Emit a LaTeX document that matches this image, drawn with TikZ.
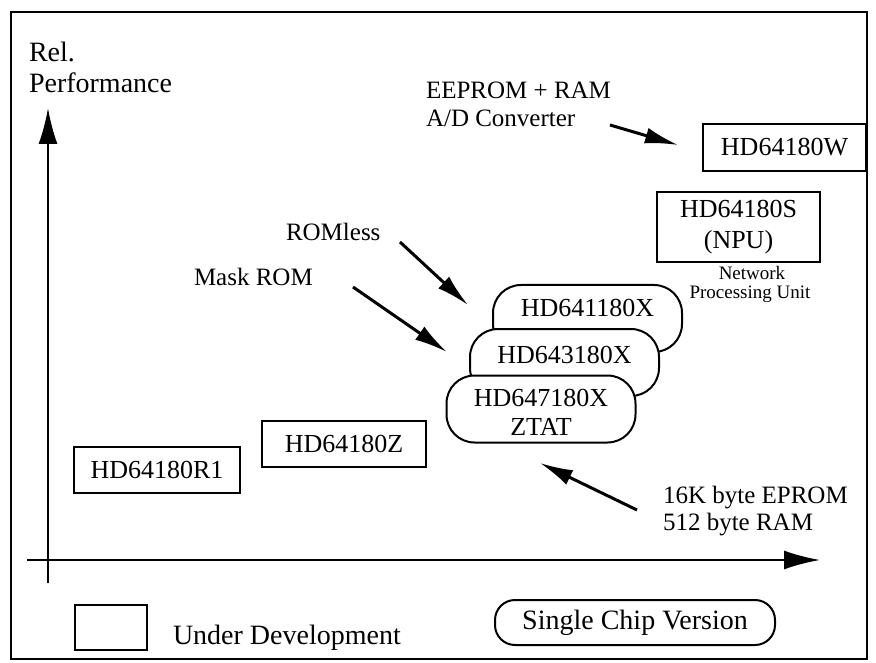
\documentclass[tikz,border=0pt]{standalone}
\usepackage{fontspec}
\setmainfont{Liberation Serif}
\usetikzlibrary{arrows.meta}
\begin{document}
\begin{tikzpicture}[x=1pt,y=-1pt,line width=2pt,
  chipbox/.style={draw,rectangle,inner sep=0pt,font=\fontsize{26}{31}\selectfont,align=center},
  xchip/.style={draw,fill=white,rectangle,rounded corners=28pt,minimum width=189pt,minimum height=67pt,inner sep=0pt},
  chiptext/.style={inner sep=0pt,font=\fontsize{26}{29}\selectfont,align=center},
  lbl/.style={inner sep=0pt,anchor=west,font=\fontsize{25}{28}\selectfont},
  biglbl/.style={inner sep=0pt,anchor=west,font=\fontsize{28}{30}\selectfont},
  small/.style={inner sep=0pt,font=\fontsize{19}{21}\selectfont},
  axis/.style={line width=2pt,-{Latex[length=36pt,width=19pt]}},
  ptr/.style={line width=3pt,-{Latex[length=33pt,width=16pt]}}]
\useasboundingbox (0,0) rectangle (876,663);
% frame
\draw[line width=2pt] (11,12) rectangle (867,659);
% axes
\coordinate (yb) at (48,583);
\coordinate (yt) at (48,108);
\coordinate (xl) at (27,560);
\coordinate (xr) at (820,560);
\draw[axis] (yb) -- (yt);
\draw[axis] (xl) -- (xr);
% axis label
\node[biglbl] (rel) at (28,52) {Rel.};
\node[biglbl] (perf) at (28,83) {Performance};
% boxes
\node[chipbox,minimum width=163pt,minimum height=47pt] (w) at (784.5,147.5) {HD64180W};
\node[chipbox,minimum width=163pt,minimum height=70pt] (s) at (738.5,227) {HD64180S\\(NPU)};
\node[small] (net) at (752,273) {Network};
\node[small] (npu) at (750,294) {Processing Unit};
\node[chipbox,minimum width=166pt,minimum height=46pt] (r1) at (157,470) {HD64180R1};
\node[chipbox,minimum width=164pt,minimum height=46pt] (z) at (344,444) {HD64180Z};
% stacked single chip versions
\node[xchip] (c1) at (587.5,318.5) {};
\node[chiptext] (t1) at (587.5,308) {HD641180X};
\node[xchip] (c2) at (564.5,362.5) {};
\node[chiptext] (t2) at (564.5,355) {HD643180X};
\node[xchip] (c3) at (541,409) {};
\node[chiptext] (t3) at (541,412) {HD647180X\\ZTAT};
% labels
\node[lbl] (ee1) at (425,90) {EEPROM + RAM};
\node[lbl] (ee2) at (425,118) {A/D Converter};
\node[lbl] (roml) at (285,232) {ROMless};
\node[lbl] (mask) at (193,277) {Mask ROM};
\node[lbl] (ep1) at (662,498) {16K byte EPROM};
\node[lbl] (ep2) at (662,525) {512 byte RAM};
% pointer arrows
\coordinate (a1s) at (610,125); \coordinate (a1e) at (678,145);
\coordinate (a2s) at (400,242); \coordinate (a2e) at (468,305);
\coordinate (a3s) at (353,287); \coordinate (a3e) at (447,352);
\coordinate (a4s) at (637,510); \coordinate (a4e) at (540,463);
\draw[ptr] (a1s) -- (a1e);
\draw[ptr] (a2s) -- (a2e);
\draw[ptr] (a3s) -- (a3e);
\draw[ptr] (a4s) -- (a4e);
% legend
\node[draw,rectangle,minimum width=72pt,minimum height=45pt,inner sep=0pt] (leg) at (111,627.5) {};
\node[biglbl] (ud) at (172,638) {Under Development};
\node[draw,rectangle,rounded corners=20pt,minimum width=280pt,minimum height=45pt,inner sep=0pt,font=\fontsize{28}{30}\selectfont] (scv) at (635,622.5) {Single Chip Version};
\end{tikzpicture}
\end{document}
